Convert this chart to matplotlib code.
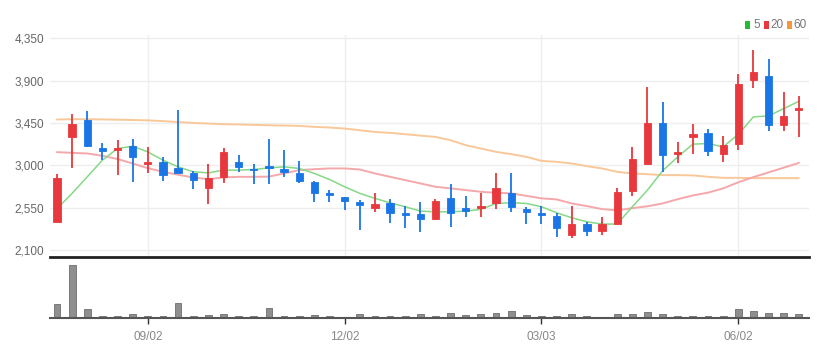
import matplotlib
matplotlib.use("Agg")
import matplotlib.pyplot as plt
import numpy as np
import pandas as pd
from matplotlib import font_manager
from matplotlib.patches import Rectangle

# ---------------- data ----------------
dates = pd.date_range("2024-07-22", periods=50, freq="W-MON")
opens = [2400, 3302, 3479, 3179, 3160, 3203, 3012, 3037, 2967, 2914,
         2755, 2878, 3037, 2960, 2985, 2959, 2914, 2818, 2708, 2666,
         2612, 2542, 2602, 2496, 2480, 2426, 2655, 2542, 2542, 2602,
         2702, 2535, 2489, 2461, 2259, 2376, 2305, 2376, 2729, 3012,
         3451, 3125, 3296, 3345, 3119, 3225, 3911, 3946, 3426, 3590]
highs = [2910, 3543, 3578, 3238, 3267, 3275, 3196, 3090, 3585, 2941,
         3012, 3179, 3108, 3012, 3285, 3161, 3047, 2833, 2737, 2666,
         2630, 2702, 2638, 2567, 2612, 2638, 2800, 2673, 2702, 2920,
         2920, 2553, 2567, 2496, 2567, 2400, 2453, 2755, 3196, 3833,
         3673, 3249, 3434, 3391, 3310, 3975, 4222, 4134, 3780, 3734]
lows = [2395, 2973, 3190, 3062, 2896, 2825, 2914, 2835, 2914, 2744,
        2585, 2808, 2931, 2797, 2797, 2871, 2808, 2606, 2606, 2524,
        2312, 2506, 2383, 2330, 2294, 2418, 2347, 2453, 2453, 2532,
        2506, 2376, 2376, 2235, 2224, 2249, 2259, 2376, 2673, 3012,
        2931, 3026, 3119, 3097, 3037, 3168, 3826, 3366, 3366, 3302]
closes = [2865, 3437, 3203, 3154, 3180, 3090, 3037, 2896, 2920, 2843,
          2867, 3143, 2984, 2950, 2975, 2924, 2835, 2708, 2680, 2623,
          2577, 2585, 2496, 2471, 2430, 2620, 2489, 2517, 2567, 2755,
          2553, 2506, 2468, 2330, 2376, 2305, 2373, 2712, 3066, 3451,
          3108, 3143, 3331, 3154, 3214, 3869, 3992, 3426, 3522, 3600]
volumes = [140, 530, 90, 23, 17, 40, 23, 17, 147, 17,
           33, 40, 23, 23, 100, 23, 17, 33, 17, 5,
           37, 20, 20, 23, 37, 17, 50, 33, 37, 50,
           67, 30, 17, 23, 40, 17, 10, 37, 37, 57,
           37, 17, 23, 17, 17, 90, 67, 50, 50, 40]
ma5 = [2540, 2702, 2878, 3055, 3179, 3203, 3143, 3055, 2984, 2931,
       2920, 2949, 2949, 2956, 2973, 2984, 2967, 2914, 2850, 2772,
       2702, 2649, 2602, 2560, 2514, 2506, 2506, 2514, 2532, 2595,
       2602, 2595, 2560, 2496, 2443, 2400, 2376, 2376, 2560, 2737,
       2941, 3090, 3225, 3232, 3196, 3330, 3515, 3525, 3603, 3680]
ma20 = [3140, 3133, 3126, 3102, 3067, 3020, 2970, 2931, 2900, 2871,
        2853, 2871, 2878, 2878, 2880, 2914, 2949, 2959, 2967, 2967,
        2956, 2914, 2878, 2843, 2808, 2772, 2755, 2737, 2719, 2708,
        2702, 2676, 2649, 2638, 2595, 2567, 2535, 2522, 2545, 2565,
        2595, 2640, 2680, 2710, 2755, 2820, 2875, 2925, 2975, 3026]
ma60 = [3487, 3490, 3490, 3488, 3485, 3482, 3478, 3470, 3460, 3451,
        3444, 3437, 3434, 3430, 3426, 3423, 3419, 3409, 3402, 3391,
        3373, 3355, 3345, 3331, 3316, 3302, 3267, 3214, 3179, 3143,
        3119, 3090, 3048, 3037, 3020, 2991, 2967, 2931, 2914, 2906,
        2896, 2896, 2893, 2878, 2867, 2867, 2864, 2864, 2864, 2864]
tick_dates = ["2024-09-02", "2024-12-02", "2025-03-03", "2025-06-02"]
tick_labels = ["09/02", "12/02", "03/03", "06/02"]
y_ticks = [2100, 2550, 3000, 3450, 3900, 4350]
legend_labels = ["5", "20", "60"]

# ---------------- style ----------------
names = {f.name for f in font_manager.fontManager.ttflist}
if "Liberation Sans Narrow" in names:
    FONT = ["Liberation Sans Narrow", "DejaVu Sans"]
else:
    FONT = ["Liberation Sans", "DejaVu Sans"]
plt.rcParams["font.family"] = FONT

UP = "#e8383d"
DOWN = "#1a76e6"
C5 = "#86d886"
C20 = "#f5a8aa"
C60 = "#f9c89a"
GRID = "#eeeeee"

W, H = 829, 357
fig = plt.figure(figsize=(W / 100, H / 100), dpi=100)
ax = fig.add_axes([50 / W, 1 - 257 / H, 759 / W, 222 / H])
axv = fig.add_axes([50 / W, 1 - 318 / H, 759 / W, 58 / H], sharex=ax)

x = np.arange(len(dates))
o = np.array(opens, float)
c = np.array(closes, float)
h = np.array(highs, float)
l = np.array(lows, float)
up = c >= o
colors = np.where(up, UP, DOWN)

# grid
for yt in y_ticks:
    ax.axhline(yt, color=GRID, lw=1, zorder=0)
tick_idx = [int(np.where(dates == pd.Timestamp(d))[0][0]) for d in tick_dates]
for ti in tick_idx:
    ax.axvline(ti, color=GRID, lw=1, zorder=0)

# moving averages
ax.plot(x, ma60, color=C60, lw=1.4, zorder=1, solid_capstyle="round")
ax.plot(x, ma20, color=C20, lw=1.4, zorder=1, solid_capstyle="round")
ax.plot(x, ma5, color=C5, lw=1.1, zorder=1, solid_capstyle="round")

# candles
ax.vlines(x, l, h, colors=colors, lw=1.3, zorder=2)
body_b = np.minimum(o, c)
body_h = np.maximum(np.abs(c - o), 18)
body_b = np.where(np.abs(c - o) < 18, (o + c) / 2 - 9, body_b)
ax.bar(x, body_h, bottom=body_b, width=0.48, color=colors, edgecolor=colors,
       lw=0.6, zorder=3)

ax.set_xlim(-0.46, 49.67)
ax.set_ylim(2026, 4385)
ax.set_yticks(y_ticks)
ax.set_yticklabels([f"{v:,}" for v in y_ticks])
ax.tick_params(axis="y", length=0, pad=4, labelsize=8.5, labelcolor="#666666")
ax.tick_params(axis="x", length=0, labelbottom=False)
for s in ["top", "right", "left"]:
    ax.spines[s].set_visible(False)
ax.spines["bottom"].set_color("#222222")
ax.spines["bottom"].set_linewidth(2)

# volume
axv.bar(x, volumes, width=0.45, color="#8f8f8f", edgecolor="#7a7a7a", lw=0.7,
        zorder=2)
axv.set_ylim(0, 577)
axv.set_yticks([])
axv.set_xticks(tick_idx)
axv.set_xticklabels(tick_labels)
axv.tick_params(axis="x", length=4, width=1, color="#333333", pad=5,
                labelsize=8.5, labelcolor="#888888", direction="out")
for s in ["top", "right", "left"]:
    axv.spines[s].set_visible(False)
axv.spines["bottom"].set_color("#555555")
axv.spines["bottom"].set_linewidth(1.5)
axv.patch.set_alpha(0)

# legend (top-right)
leg = [("#22bb33", legend_labels[0], 745, 753),
       ("#e8383d", legend_labels[1], 764, 770),
       ("#f59a3c", legend_labels[2], 787, 793)]
for col, lab, sx, tx in leg:
    fig.add_artist(Rectangle((sx / W, 1 - 28.5 / H), 5 / W, 7 / H,
                             transform=fig.transFigure, color=col, lw=0))
    fig.text(tx / W, 1 - 25 / H, lab, fontsize=8.5, color="#777777",
             va="center", ha="left")

fig.savefig("out.png", dpi=100)
